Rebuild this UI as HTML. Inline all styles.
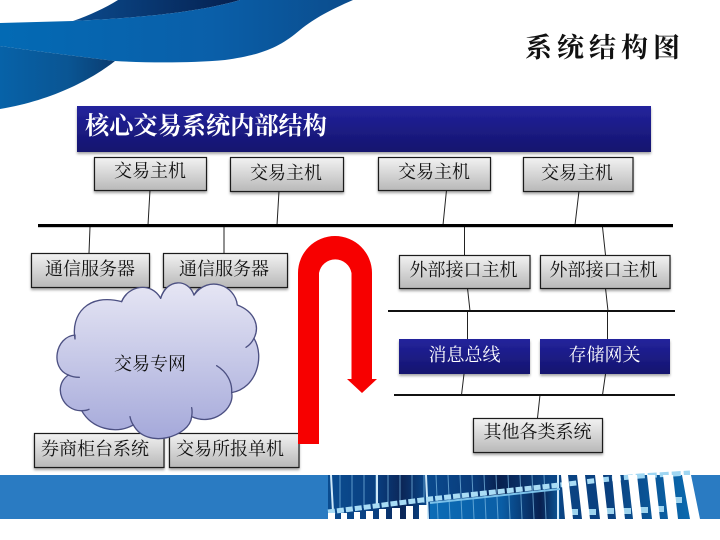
<!DOCTYPE html>
<html lang="zh">
<head>
<meta charset="utf-8">
<style>
html,body{margin:0;padding:0;background:#fff;width:720px;height:540px;overflow:hidden}
svg{display:block}
text{font-family:"Liberation Serif","Noto Serif CJK SC",serif;font-size:18px;fill:#111}
</style>
</head>
<body>
<svg width="720" height="540" viewBox="0 0 720 540" xmlns="http://www.w3.org/2000/svg">
<defs>
<linearGradient id="g" x1="0" y1="0" x2="0" y2="1"><stop offset="0" stop-color="#f2f2f2"/><stop offset="1" stop-color="#b8b8b8"/></linearGradient>
<linearGradient id="b" x1="0" y1="0" x2="0" y2="1"><stop offset="0" stop-color="#23239c"/><stop offset="1" stop-color="#14146e"/></linearGradient>
<linearGradient id="c" x1="0" y1="0" x2="0" y2="1"><stop offset="0" stop-color="#e6e6f4"/><stop offset="1" stop-color="#a5a9da"/></linearGradient>
<linearGradient id="m" x1="0" y1="0" x2="1" y2="0"><stop offset="0" stop-color="#036ab4"/><stop offset=".6" stop-color="#0a5fa9"/><stop offset="1" stop-color="#0b4c8c"/></linearGradient>
<linearGradient id="l" x1="0" y1="0" x2="1" y2="0"><stop offset="0" stop-color="#0762a8"/><stop offset=".6" stop-color="#0a5593"/><stop offset="1" stop-color="#0b3c70"/></linearGradient>
<linearGradient id="d" x1="0" y1="0" x2="1" y2="0"><stop offset="0" stop-color="#0b4a8c"/><stop offset="1" stop-color="#05204f"/></linearGradient>
<linearGradient id="bd" x1="0" y1="0" x2="1" y2="0">
<stop offset="0" stop-color="#0a4c90"/><stop offset=".13" stop-color="#0a3f80"/><stop offset=".2" stop-color="#0b2658"/><stop offset=".27" stop-color="#0a4a8e"/><stop offset=".4" stop-color="#0a3a78"/><stop offset=".46" stop-color="#081f4e"/><stop offset=".6" stop-color="#0a4585"/><stop offset=".75" stop-color="#0a3f7e"/><stop offset="1" stop-color="#0a6fb4"/></linearGradient>
<linearGradient id="bl" x1="0" y1="0" x2="1" y2="0"><stop offset="0" stop-color="#0c6cb6"/><stop offset=".55" stop-color="#0a5ea6"/><stop offset=".85" stop-color="#082050"/><stop offset="1" stop-color="#0a5a9c"/></linearGradient>
<filter id="s" x="-10%" y="-20%" width="120%" height="150%"><feDropShadow dx="0" dy="2" stdDeviation="1.2" flood-color="#000" flood-opacity=".35"/></filter>
</defs>

<!-- header swoosh -->
<path d="M73 21 C90 15 105 8 118 0 L240 0 C200 12 140 18 73 21Z" fill="url(#d)"/>
<path d="M0 23 L73 21 C140 18 200 12 240 0 L353 0 C330 10 315 18 300 30 C280 47 262 55 225 60 C190 63 150 63 115 61 C75 56 35 51 0 46Z" fill="url(#m)"/>
<path d="M0 46 C35 51 75 56 115 61 C95 77 55 100 0 109Z" fill="url(#l)"/>

<!-- title -->
<text x="525" y="57" style="font-size:27px;font-weight:700;letter-spacing:5px;fill:#111;font-family:'Noto Serif CJK SC',serif">系统结构图</text>

<!-- section bar -->
<rect x="77" y="106" width="574" height="46" fill="url(#b)" filter="url(#s)"/>
<text x="85" y="134" style="font-size:24.2px;font-weight:700;fill:#fff;font-family:'Noto Serif CJK SC',serif">核心交易系统内部结构</text>

<!-- connectors -->
<g stroke="#222" stroke-width="1" fill="none">
<path d="M150 190L148 225M279 191L277 225M446.5 190L443 225M579 191L575 225"/>
<path d="M90 227L89 253M224 227V253M464.5 227V255M602.5 227L605.5 255"/>
<path d="M467.5 288L470 311M467.5 311V339M605.5 288L608 311M607.5 311V339"/>
<path d="M464 374L461.5 395M605.5 374L602.5 395M540 395L537.5 418"/>
</g>
<rect x="38" y="224" width="635" height="3.2" fill="#000"/>
<rect x="388" y="310" width="287" height="2" fill="#111"/>
<rect x="394" y="394" width="281" height="2" fill="#111"/>

<!-- grey boxes -->
<g fill="url(#g)" stroke="#1a1a1a" stroke-width="1.2" filter="url(#s)">
<rect x="94.5" y="157.5" width="112" height="33"/>
<rect x="230.5" y="157.5" width="113" height="34"/>
<rect x="378.5" y="157.5" width="112" height="33"/>
<rect x="523.5" y="157.5" width="109.500" height="34"/>
<rect x="31.500" y="253.500" width="118" height="34"/>
<rect x="163.500" y="253.500" width="124" height="34"/>
<rect x="399.500" y="255.500" width="130.500" height="33"/>
<rect x="540.500" y="255.500" width="129.500" height="33"/>
<rect x="34.500" y="433.500" width="129.500" height="34"/>
<rect x="169.500" y="433.500" width="129.500" height="34"/>
<rect x="473.500" y="418.500" width="129" height="34"/>
</g>
<rect x="399" y="339" width="131" height="35" fill="url(#b)" filter="url(#s)"/>
<rect x="540" y="339" width="130" height="35" fill="url(#b)" filter="url(#s)"/>

<!-- red arrow -->
<path d="M298 444V273A37 37 0 0 1 372 273V379H377L362 393L347 379H351.500V273A16.500 16.500 0 0 0 319 273V444Z" fill="#f70000"/>

<!-- cloud -->
<g transform="translate(0 240) scale(.3333)">
<path d="M225 297C212 225 262 158 365 185C385 135 455 125 482 175C500 115 565 115 582 165C625 105 705 135 712 195C765 215 780 260 762 295C795 350 770 445 695 458C705 505 640 560 575 530C570 590 440 630 400 555C345 585 275 565 245 512C190 515 155 440 205 405C150 385 165 290 225 285Z" fill="url(#c)" stroke="#4c5082" stroke-width="4" stroke-linejoin="round"/>
<g fill="none" stroke="#4c5082" stroke-width="4" stroke-linecap="round">
<path d="M365 185C368 178 372 170 378 165"/>
<path d="M482 175C485 165 490 155 497 147"/>
<path d="M582 165C586 158 590 152 597 146"/>
<path d="M762 295C757 305 750 315 738 322"/>
<path d="M695 458C697 425 680 395 650 377"/>
<path d="M575 530C577 518 577 512 575 503"/>
<path d="M400 555C395 548 392 540 390 530"/>
<path d="M245 512C252 512 260 512 267 508"/>
<path d="M205 405C215 410 225 412 238 412"/>
</g>
</g>

<!-- labels -->
<text x="114" y="177">交易主机</text>
<text x="250" y="179">交易主机</text>
<text x="398" y="178">交易主机</text>
<text x="541" y="179">交易主机</text>
<text x="45" y="275">通信服务器</text>
<text x="179" y="275">通信服务器</text>
<text x="409.500" y="276">外部接口主机</text>
<text x="549.500" y="276">外部接口主机</text>
<text x="428.500" y="361" style="fill:#fff">消息总线</text>
<text x="568.500" y="361" style="fill:#fff">存储网关</text>
<text x="114" y="370">交易专网</text>
<text x="41" y="455">券商柜台系统</text>
<text x="176" y="455">交易所报单机</text>
<text x="483.500" y="438">其他各类系统</text>

<!-- footer -->
<rect x="0" y="475" width="720" height="44" fill="#2a7bc2"/>
<path d="M328 475H691L700 519H328Z" fill="url(#bd)"/>
<path d="M430 503L560 488V519H430Z" fill="url(#bl)"/>
<g stroke="#7fbde6" stroke-width="1" opacity=".7">
<path d="M340 475V510M352 475V509M364 475V508M376 475V507M388 475V506M400 475V505M412 475V504M424 475V503M436 475L438 519M448 475L450 519M460 475L462 519M472 475L474 519M484 475L486 519M496 475L498 519M508 475L510 519M520 475L522 519M532 475L534 519M544 475L546 519"/>
</g>
<g stroke="#cfe9f9" stroke-width="2">
<path d="M331 475L333 512M377 475V507M426 475L428 519M558 475V519"/>
</g>
<path d="M328 512L430 499L560 485L600 480" fill="none" stroke="#a9dcf5" stroke-width="5" stroke-dasharray="7 2"/>
<path d="M430 503L560 489" fill="none" stroke="#7cc2ea" stroke-width="2"/>
<path d="M600 480L640 476L690 473" fill="none" stroke="#9fd6f2" stroke-width="5" stroke-dasharray="9 3"/>
<g fill="#9fd4ee">
<path d="M568 509H578V515H568ZM586 509H596V515H586ZM604 508H614V514H604ZM621 508H631V514H621ZM638 507H648V513H638ZM656 506H664V512H656Z"/>
<path d="M672 497H682V503H672Z"/>
</g>
<g fill="#fff">
<path d="M328 513H335V519H328ZM341 513H347V519H341ZM354 512H360V519H354ZM366 511H373V519H366ZM379 509H386V519H379ZM392 508H400V519H392ZM406 506H413V519H406ZM419 505H427V519H419Z"/>
<path d="M561 475H568L573 519H565ZM577 475H585L590 519H582ZM595 475H603L608 519H600ZM612 475H620L625 519H616ZM628 475H637L642 519H633ZM647 475H655L660 519H652ZM663 475H673L678 519H668ZM682 475H691L700 519H690Z"/>
</g>
</svg>
</body>
</html>
